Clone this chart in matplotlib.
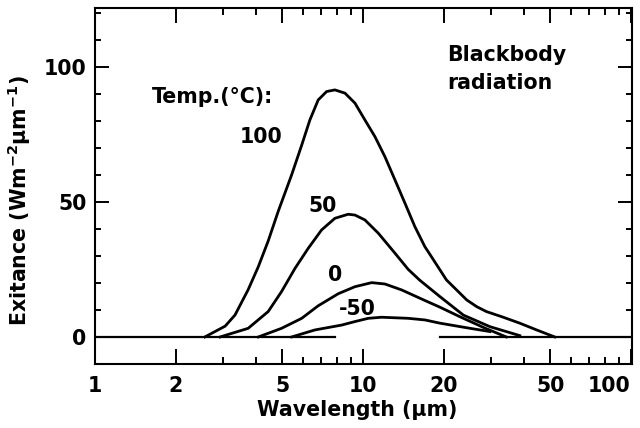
import matplotlib
matplotlib.use('Agg')
import matplotlib.pyplot as plt
from matplotlib.ticker import NullFormatter

# Blackbody spectral exitance curves, wavelength in um, exitance in W m-2 um-1
wl_100 = [2.57, 3.06, 3.33, 3.73, 4.07, 4.43, 4.83, 5.42, 5.91, 6.34, 6.81, 7.32,
          7.86, 8.57, 9.34, 10.17, 11.09, 12.08, 13.17, 14.35, 15.63, 17.03,
          17.8, 20.5, 24.4, 26.6, 28.9, 33.4, 38.5, 44.5, 52.0]
ex_100 = [0.0, 4.0, 8.1, 17.5, 26.0, 35.5, 46.5, 60.0, 71.0, 80.3, 87.7, 90.8,
          91.4, 90.2, 86.5, 80.3, 74.1, 66.7, 58.1, 49.5, 40.8, 33.4,
          30.5, 21.1, 13.7, 11.2, 9.4, 7.3, 5.1, 2.6, 0.0]

wl_50 = [2.93, 3.73, 4.43, 4.97, 5.58, 6.25, 7.01, 7.86, 8.81, 9.34, 10.17,
         11.41, 13.17, 14.76, 16.3, 19.4, 23.7, 29.8, 38.5]
ex_50 = [0.0, 3.2, 9.4, 16.8, 25.4, 32.8, 39.6, 43.9, 45.4, 45.1, 43.3,
         38.4, 31.0, 25.0, 21.0, 14.9, 8.1, 3.8, 0.5]

wl_0 = [4.07, 4.97, 5.91, 6.8, 8.09, 9.34, 10.78, 12.08, 13.95, 17.03, 19.4,
        23.0, 28.5, 34.3]
ex_0 = [0.0, 3.2, 6.9, 11.5, 16.0, 18.6, 20.1, 19.6, 17.4, 13.5, 11.0,
        7.5, 3.3, 0.0]

wl_m50 = [5.42, 6.62, 8.33, 9.34, 10.47, 11.74, 14.76, 17.03, 19.4, 25.1, 29.8]
ex_m50 = [0.0, 2.6, 4.4, 5.7, 6.9, 7.3, 6.9, 6.3, 5.1, 3.2, 2.0]

# zero baseline, drawn in two pieces
base_left = [1.0, 7.86]
base_right = [19.4, 101.0]

x_major = [1, 2, 5, 10, 20, 50, 100]
x_major_labels = ['1', '2', '5', '10', '20', '50', '100']
x_minor = [3, 4, 6, 7, 8, 9, 30, 40, 60, 70, 80, 90]
y_major = [0, 50, 100]
y_minor = [-10, 10, 20, 30, 40, 60, 70, 80, 90, 110, 120]

FS = 14.8
plt.rcParams['font.family'] = 'DejaVu Sans'
plt.rcParams['font.weight'] = 'bold'
plt.rcParams['mathtext.fontset'] = 'dejavusans'
plt.rcParams['mathtext.default'] = 'bf'

fig = plt.figure(figsize=(6.4, 4.28), dpi=100)
ax = fig.add_axes([95 / 640, 1 - 364 / 428, 537 / 640, 356 / 428])

lw = 2.0
ax.plot(wl_100, ex_100, color='black', lw=lw)
ax.plot(wl_50, ex_50, color='black', lw=lw)
ax.plot(wl_0, ex_0, color='black', lw=lw)
ax.plot(wl_m50, ex_m50, color='black', lw=lw)
ax.plot(base_left, [0, 0], color='black', lw=1.6)
ax.plot(base_right, [0, 0], color='black', lw=1.6)

ax.set_xscale('log')
ax.set_xlim(1, 101)
ax.set_ylim(-10, 121.7)

ax.set_xticks(x_major)
ax.set_xticklabels(x_major_labels)
ax.set_xticks(x_minor, minor=True)
ax.xaxis.set_minor_formatter(NullFormatter())
ax.set_yticks(y_major)
ax.set_yticks(y_minor, minor=True)

ax.tick_params(which='both', direction='in', top=True, right=True, width=1.4,
               labelsize=FS)
ax.tick_params(axis='x', which='major', length=11, pad=9)
ax.tick_params(axis='x', which='minor', length=5)
ax.tick_params(axis='y', which='major', length=10, pad=6)
ax.tick_params(axis='y', which='minor', length=4.3)
for lab in ax.get_xticklabels() + ax.get_yticklabels():
    lab.set_fontweight('bold')
ax.get_xticklabels()[-1].set_ha('right')

for sp in ax.spines.values():
    sp.set_linewidth(1.5)

ax.set_xlabel('Wavelength (µm)', fontsize=FS, fontweight='bold')
ax.xaxis.set_label_coords(0.488, -0.10)
ax.set_ylabel(r'Exitance (Wm$^{-2}$µm$^{-1}$)', fontsize=FS, fontweight='bold')
ax.yaxis.set_label_coords(-0.1155, 0.458)

# curve labels
ax.text(1.63, 88.8, 'Temp.(°C):', fontsize=FS, fontweight='bold', ha='left', va='center')
ax.text(4.18, 73.8, '100', fontsize=FS, fontweight='bold', ha='center', va='center')
ax.text(7.09, 48.3, '50', fontsize=FS, fontweight='bold', ha='center', va='center')
ax.text(7.90, 23.1, '0', fontsize=FS, fontweight='bold', ha='center', va='center')
ax.text(9.54, 10.5, '-50', fontsize=FS, fontweight='bold', ha='center', va='center')
ax.text(20.6, 104.3, 'Blackbody', fontsize=FS, fontweight='bold', ha='left', va='center')
ax.text(20.6, 94.0, 'radiation', fontsize=FS, fontweight='bold', ha='left', va='center')

fig.savefig('out.png', dpi=100)
